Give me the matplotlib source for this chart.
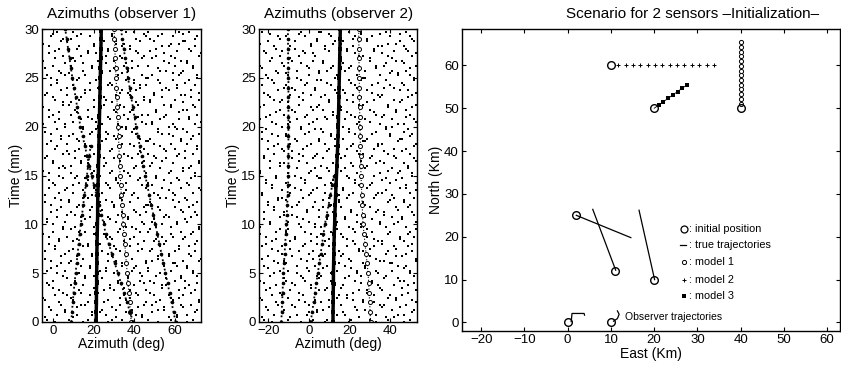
import numpy as np
import matplotlib.pyplot as plt

plt.rcParams['font.family'] = ['Liberation Sans', 'DejaVu Sans']

# ---- azimuth panels: clutter rows (two interleaved sets, half-minute rows) ----
row_t = np.arange(0.25, 30, 0.5)
row_t2 = np.arange(0.0, 30, 0.5)

clutter1 = [
    [-3, 8, 17, 29, 34, 47, 58, 69], [2, 12, 19, 26, 41, 44, 61, 66],
    [-1, 6, 24, 31, 39, 52, 55, 71], [4, 14, 16, 33, 45, 49, 63, 68],
    [-4, 10, 21, 27, 36, 53, 59, 72], [1, 7, 18, 35, 42, 50, 57, 64],
    [3, 13, 25, 30, 38, 46, 62, 70], [-2, 9, 15, 28, 40, 54, 56, 67],
    [0, 11, 22, 32, 43, 48, 60, 65], [5, 16, 20, 37, 44, 51, 63, 71],
    [-3, 6, 23, 26, 39, 47, 58, 69], [2, 14, 18, 34, 41, 55, 61, 66],
    [-1, 9, 27, 31, 46, 49, 64, 72], [4, 12, 19, 29, 36, 52, 57, 68],
    [-4, 8, 24, 33, 42, 48, 60, 70], [1, 15, 17, 30, 38, 53, 62, 67],
    [3, 10, 21, 35, 45, 50, 56, 71], [-2, 7, 26, 28, 40, 54, 59, 65],
    [0, 13, 16, 32, 43, 47, 63, 69], [5, 11, 20, 36, 39, 51, 58, 72],
    [-3, 6, 25, 31, 44, 49, 61, 66], [2, 14, 18, 27, 37, 55, 57, 68],
    [-1, 9, 22, 34, 41, 46, 64, 70], [4, 12, 19, 30, 45, 52, 60, 67],
    [-4, 8, 23, 29, 38, 48, 62, 71], [1, 15, 17, 33, 42, 53, 56, 65],
    [3, 10, 24, 35, 40, 50, 59, 69], [-2, 7, 20, 28, 46, 54, 63, 72],
    [0, 13, 26, 32, 36, 47, 58, 66], [5, 11, 16, 31, 43, 51, 61, 68],
    [-2, 9, 19, 28, 37, 46, 57, 70], [3, 6, 22, 33, 40, 53, 64, 67],
    [0, 14, 17, 26, 44, 49, 59, 72], [-4, 11, 25, 30, 39, 51, 56, 65],
    [5, 8, 20, 35, 42, 47, 62, 69], [1, 13, 23, 29, 45, 55, 60, 71],
    [-3, 7, 16, 34, 38, 50, 58, 66], [4, 12, 26, 31, 43, 48, 63, 68],
    [-1, 10, 18, 27, 41, 54, 57, 72], [2, 15, 21, 36, 40, 52, 61, 64],
    [-5, 6, 24, 32, 46, 49, 59, 70], [3, 14, 19, 28, 37, 53, 62, 67],
    [0, 9, 22, 35, 44, 47, 56, 71], [-2, 11, 17, 30, 39, 51, 64, 66],
    [5, 8, 25, 33, 42, 55, 58, 69], [1, 13, 20, 26, 45, 48, 60, 72],
    [-4, 7, 23, 31, 38, 50, 63, 65], [4, 16, 18, 34, 41, 54, 57, 68],
    [-1, 10, 27, 29, 43, 46, 61, 70], [2, 12, 21, 36, 40, 52, 59, 67],
    [-3, 6, 16, 32, 44, 49, 62, 71], [3, 15, 24, 28, 37, 53, 56, 64],
    [0, 9, 19, 35, 42, 47, 60, 69], [-5, 11, 22, 30, 39, 55, 63, 66],
    [5, 14, 26, 33, 45, 51, 58, 72], [1, 8, 17, 27, 41, 48, 61, 68],
    [-2, 13, 20, 34, 38, 54, 57, 70], [4, 7, 25, 31, 43, 50, 64, 65],
    [-1, 12, 18, 29, 46, 52, 59, 71], [2, 10, 23, 36, 40, 47, 62, 67],
]
clutter1b = [
    [1, 15, 27, 39, 52, 66], [-4, 10, 31, 44, 57, 61], [6, 19, 23, 36, 49, 70],
    [-2, 12, 29, 42, 55, 64], [3, 17, 25, 46, 51, 72], [-5, 9, 33, 38, 58, 62],
    [5, 14, 22, 41, 48, 68], [0, 20, 28, 35, 54, 65], [-3, 11, 32, 45, 50, 71],
    [7, 16, 24, 37, 56, 63], [2, 13, 30, 43, 53, 69], [-1, 18, 26, 40, 47, 66],
    [4, 8, 34, 46, 59, 60], [-4, 15, 21, 39, 52, 73], [6, 19, 27, 36, 57, 67],
    [1, 10, 31, 44, 49, 62], [-2, 17, 23, 42, 55, 70], [3, 12, 29, 38, 51, 64],
    [-5, 20, 25, 35, 58, 68], [5, 9, 33, 41, 48, 72], [0, 14, 22, 45, 54, 61],
    [-3, 16, 28, 37, 50, 65], [7, 11, 32, 43, 56, 71], [2, 18, 24, 40, 53, 63],
    [-1, 13, 30, 46, 47, 69], [4, 8, 26, 34, 59, 66], [-4, 19, 34, 39, 52, 60],
    [6, 15, 21, 36, 57, 73], [1, 10, 27, 44, 49, 67], [-2, 17, 31, 42, 55, 62],
    [3, 12, 23, 38, 51, 70], [-5, 20, 29, 35, 58, 64], [5, 9, 25, 41, 48, 68],
    [0, 14, 33, 45, 54, 72], [-3, 16, 22, 37, 50, 61], [7, 11, 28, 43, 56, 65],
    [2, 18, 32, 40, 53, 71], [-1, 13, 24, 46, 47, 63], [4, 8, 30, 34, 59, 69],
    [-4, 19, 26, 39, 52, 66], [6, 15, 34, 36, 57, 60], [1, 10, 21, 44, 49, 73],
    [-2, 17, 27, 42, 55, 67], [3, 12, 31, 38, 51, 62], [-5, 20, 23, 35, 58, 70],
    [5, 9, 29, 41, 48, 64], [0, 14, 25, 45, 54, 68], [-3, 16, 33, 37, 50, 72],
    [7, 11, 22, 43, 56, 61], [2, 18, 28, 40, 53, 65], [-1, 13, 32, 46, 47, 71],
    [4, 8, 24, 34, 59, 63], [-4, 19, 30, 39, 52, 69], [6, 15, 26, 36, 57, 66],
    [1, 10, 34, 44, 49, 60], [-2, 17, 21, 42, 55, 73], [3, 12, 27, 38, 51, 67],
    [-5, 20, 31, 35, 58, 62], [5, 9, 23, 41, 48, 70], [0, 14, 29, 45, 54, 64],
]

clutter2 = [
    [-22, -10, 2, 9, 21, 30, 39, 50], [-17, -6, -1, 14, 18, 33, 44, 47],
    [-20, -12, 4, 7, 24, 28, 41, 52], [-15, -8, 0, 12, 16, 35, 37, 48],
    [-23, -5, 3, 10, 22, 27, 43, 51], [-18, -13, -3, 15, 19, 32, 40, 46],
    [-21, -9, 5, 8, 25, 29, 36, 53], [-16, -7, 1, 13, 17, 34, 42, 49],
    [-24, -11, -2, 11, 23, 31, 45, 47], [-19, -4, 4, 6, 20, 26, 38, 52],
    [-14, -10, 0, 14, 24, 33, 41, 50], [-22, -6, 3, 9, 18, 28, 44, 48],
    [-17, -12, -1, 12, 21, 35, 37, 53], [-20, -8, 5, 7, 16, 30, 43, 46],
    [-15, -5, 2, 15, 25, 27, 39, 51], [-23, -13, -3, 10, 19, 32, 42, 49],
    [-18, -9, 1, 8, 22, 34, 36, 47], [-21, -7, 4, 13, 17, 29, 45, 52],
    [-16, -11, -2, 11, 23, 31, 40, 50], [-24, -4, 3, 6, 20, 26, 38, 48],
    [-19, -10, 0, 14, 24, 35, 44, 53], [-14, -6, 5, 9, 18, 28, 41, 46],
    [-22, -12, -1, 12, 21, 33, 37, 51], [-17, -8, 2, 7, 16, 30, 43, 49],
    [-20, -5, 3, 15, 25, 27, 39, 47], [-15, -13, -3, 10, 19, 32, 42, 52],
    [-23, -9, 1, 8, 22, 34, 36, 50], [-18, -7, 4, 13, 17, 29, 45, 48],
    [-21, -11, -2, 11, 23, 31, 40, 53], [-16, -4, 5, 6, 20, 26, 38, 46],
    [-24, -10, 0, 14, 24, 35, 44, 51], [-19, -6, 3, 9, 18, 28, 41, 49],
    [-14, -12, -1, 12, 21, 33, 37, 47], [-22, -8, 2, 7, 16, 30, 43, 52],
    [-17, -5, 4, 15, 25, 27, 39, 50], [-20, -13, -3, 10, 19, 32, 42, 48],
    [-15, -9, 1, 8, 22, 34, 36, 53], [-23, -7, 5, 13, 17, 29, 45, 46],
    [-18, -11, -2, 11, 23, 31, 40, 51], [-21, -4, 3, 6, 20, 26, 38, 49],
    [-16, -10, 0, 14, 24, 35, 44, 47], [-24, -6, 4, 9, 18, 28, 41, 52],
    [-19, -12, -1, 12, 21, 33, 37, 50], [-14, -8, 2, 7, 16, 30, 43, 48],
    [-22, -5, 5, 15, 25, 27, 39, 53], [-17, -13, -3, 10, 19, 32, 42, 46],
    [-20, -9, 1, 8, 22, 34, 36, 51], [-15, -7, 3, 13, 17, 29, 45, 49],
    [-23, -11, -2, 11, 23, 31, 40, 47], [-18, -4, 4, 6, 20, 26, 38, 52],
    [-21, -10, 0, 14, 24, 35, 44, 50], [-16, -6, 5, 9, 18, 28, 41, 48],
    [-24, -12, -1, 12, 21, 33, 37, 53], [-19, -8, 2, 7, 16, 30, 43, 46],
    [-14, -5, 3, 15, 25, 27, 39, 51], [-22, -13, -3, 10, 19, 32, 42, 49],
    [-17, -9, 1, 8, 22, 34, 36, 47], [-20, -7, 4, 13, 17, 29, 45, 52],
    [-15, -11, -2, 11, 23, 31, 40, 50], [-23, -4, 5, 6, 20, 26, 38, 48],
]
clutter2b = [
    [-18, -4, 8, 20, 33, 47], [-23, -9, 12, 25, 38, 42], [-13, 0, 4, 17, 30, 51],
    [-21, -7, 10, 23, 36, 45], [-16, -2, 6, 27, 32, 53], [-24, -10, 14, 19, 39, 43],
    [-14, -5, 3, 22, 29, 49], [-19, 1, 9, 16, 35, 46], [-22, -8, 13, 26, 31, 52],
    [-12, -3, 5, 18, 37, 44], [-17, -6, 11, 24, 34, 50], [-20, -1, 7, 21, 28, 47],
    [-15, -11, 15, 27, 40, 41], [-23, -4, 2, 20, 33, 53], [-13, 0, 8, 17, 38, 48],
    [-18, -9, 12, 25, 30, 43], [-21, -2, 4, 23, 36, 51], [-16, -7, 10, 19, 32, 45],
    [-24, 1, 6, 16, 39, 49], [-14, -10, 14, 22, 29, 53], [-19, -5, 3, 26, 35, 42],
    [-22, -3, 9, 18, 31, 46], [-12, -8, 13, 24, 37, 52], [-17, -1, 5, 21, 34, 44],
    [-20, -6, 11, 27, 28, 50], [-15, -11, 7, 15, 40, 47], [-23, 0, 15, 20, 33, 41],
    [-13, -4, 2, 17, 38, 53], [-18, -9, 8, 25, 30, 48], [-21, -2, 12, 23, 36, 43],
    [-16, -7, 4, 19, 32, 51], [-24, 1, 10, 16, 39, 45], [-14, -10, 6, 22, 29, 49],
    [-19, -5, 14, 26, 35, 53], [-22, -3, 3, 18, 31, 42], [-12, -8, 9, 24, 37, 46],
    [-17, -1, 13, 21, 34, 52], [-20, -6, 5, 27, 28, 44], [-15, -11, 11, 15, 40, 50],
    [-23, 0, 7, 20, 33, 47], [-13, -4, 15, 17, 38, 41], [-18, -9, 2, 25, 30, 53],
    [-21, -2, 8, 23, 36, 48], [-16, -7, 12, 19, 32, 43], [-24, 1, 4, 16, 39, 51],
    [-14, -10, 10, 22, 29, 45], [-19, -5, 6, 26, 35, 49], [-22, -3, 14, 18, 31, 53],
    [-12, -8, 3, 24, 37, 42], [-17, -1, 9, 21, 34, 46], [-20, -6, 13, 27, 28, 52],
    [-15, -11, 5, 15, 40, 44], [-23, 0, 11, 20, 33, 50], [-13, -4, 7, 17, 38, 47],
    [-18, -9, 15, 25, 30, 41], [-21, -2, 2, 23, 36, 53], [-16, -7, 8, 19, 32, 48],
    [-24, 1, 12, 16, 39, 43], [-14, -10, 4, 22, 29, 51], [-19, -5, 10, 26, 35, 45],
]

# ---- azimuth tracks, one value per minute ----
t_min = np.arange(31)

sq1 = [21.3, 21.3, 21.4, 21.4, 21.5, 21.5, 21.6, 21.6, 21.7, 21.8, 21.9, 22.0, 22.0, 22.1, 22.2, 22.3,
       22.4, 22.5, 22.6, 22.7, 22.8, 22.9, 23.0, 23.1, 23.2, 23.3, 23.4, 23.5, 23.6, 23.7, 23.8]
circ1 = [38.6, 38.2, 37.8, 37.4, 37.0, 36.6, 36.2, 35.8, 35.4, 35.0, 34.6, 34.3, 34.0, 33.7, 33.4, 33.1,
         32.9, 32.7, 32.5, 32.3, 32.1, 31.9, 31.7, 31.5, 31.3, 31.1, 30.9, 30.7, 30.5, 30.3, 30.1]
diag1 = [39.5, 38.0, 36.5, 35.0, 33.5, 32.0, 30.5, 29.0, 27.5, 26.0, 25.0, 23.8, 22.6, 21.4, 20.2, 19.0,
         17.9, 16.8, 15.7, 14.6, 13.5, 12.7, 11.9, 11.1, 10.3, 9.5, 8.8, 8.1, 7.4, 6.7, 6.0]
left1 = [9.0, 9.3, 9.7, 10.1, 10.6, 11.1, 11.6, 12.1, 12.6, 13.1, 13.7, 14.3, 14.9, 15.5, 16.1, 16.7,
         17.3, 17.9, 18.5]
right1 = [60.5, 59.5, 58.5, 57.5, 56.5, 55.5, 54.5, 53.5, 52.5, 51.5, 50.5, 49.5, 48.5, 47.5, 46.5, 45.5,
          44.6, 43.7, 42.8, 41.9, 41.0, 40.2, 39.4, 38.6, 37.8, 37.0, 36.3, 35.6, 34.9, 34.2, 33.5]

sq2 = [12.0, 12.0, 12.1, 12.1, 12.2, 12.2, 12.3, 12.4, 12.5, 12.6, 12.8, 12.9, 13.1, 13.3, 13.5, 13.7,
       13.9, 14.1, 14.3, 14.5, 14.6, 14.7, 14.8, 14.9, 15.0, 15.1, 15.2, 15.3, 15.4, 15.5, 15.6]
circ2 = [30.5, 30.3, 30.1, 29.8, 29.6, 29.3, 28.8, 28.3, 27.8, 27.3, 26.8, 26.6, 26.4, 26.2, 26.0, 25.8,
         25.7, 25.6, 25.5, 25.4, 25.3, 25.2, 25.1, 25.0, 25.0, 24.9, 24.9, 24.8, 24.8, 24.7, 24.7]
left2 = [-13.5, -13.3, -13.1, -12.9, -12.7, -12.5, -12.2, -11.9, -11.6, -11.3, -11.0, -10.8, -10.6, -10.4,
         -10.2, -10.0, -10.0, -10.0, -10.0, -10.0, -10.0, -10.0, -10.0, -10.0, -10.0, -10.0, -10.1, -10.1,
         -10.2, -10.2, -10.3]
diag2 = [1.0, 1.7, 2.4, 3.1, 3.8, 4.5, 5.2, 5.9, 6.6, 7.3, 8.0, 8.9, 9.8, 10.7, 11.6, 12.5]

# ---- scenario panel ----
init_x = [40, 10, 20, 2, 11, 20, 0, 10]
init_y = [50, 60, 50, 25, 12, 10, 0, 0]
model1_y = [51.1, 52.2, 53.3, 54.4, 55.5, 56.6, 57.7, 58.8, 59.9, 61.0, 62.1, 63.2, 64.3, 65.4]
model2_x = [11.7, 13.4, 15.1, 16.8, 18.5, 20.2, 21.9, 23.6, 25.3, 27.0, 28.7, 30.4, 32.1, 33.8]
model3_x = [21.0, 22.1, 23.2, 24.3, 25.4, 26.5, 27.5]
model3_y = [50.7, 51.5, 52.3, 53.1, 53.9, 54.7, 55.4]
true_tracks = [([2, 14.6], [25, 19.8]), ([11.1, 5.8], [12.2, 26.4]), ([20.1, 16.5], [10, 26.2])]
obs_tracks = [([0.8, 0.9, 1.0, 3.8, 3.9], [0.2, 1.0, 2.1, 2.1, 1.7]),
              ([10.6, 11.5, 11.9, 11.5], [0.3, 0.9, 1.9, 2.7])]


def clutter_xy(times, rows):
    xs, ys = [], []
    for t, row in zip(times, rows):
        xs += row
        ys += [t] * len(row)
    return xs, ys


def style(ax):
    ax.tick_params(direction='in', length=3, top=True, right=True, labelsize=9.5, pad=2)
    for s in ax.spines.values():
        s.set_linewidth(1.0)


fig = plt.figure(figsize=(8.41, 3.68), dpi=100)

panels = [
    ([0.0499, 0.125, 0.189, 0.796], (clutter1, clutter1b), sq1, circ1, [diag1, right1], [left1],
     (-5.5, 73), [0, 20, 40, 60], 'Azimuths (observer 1)'),
    ([0.308, 0.125, 0.188, 0.796], (clutter2, clutter2b), sq2, circ2, [left2], [diag2],
     (-24.5, 53.5), [-20, 0, 20, 40], 'Azimuths (observer 2)'),
]

for rect, (clut_a, clut_b), sq, circ, full_dots, part_dots, xl, xt, title in panels:
    ax = fig.add_axes(rect)
    for times, rows in ((row_t, clut_a), (row_t2, clut_b)):
        cx, cy = clutter_xy(times, rows)
        ax.plot(cx, cy, 's', color='k', ms=2.0, mew=0)
    ax.plot(sq, t_min, 'k-', lw=2.5)
    ax.plot(sq, t_min, 's', color='k', ms=3.0, mew=0)
    ax.plot(circ, t_min, 'k:', lw=0.8)
    ax.plot(circ, t_min, 'o', mfc='white', mec='k', ms=2.9, mew=0.7)
    for tr in full_dots:
        ax.plot(tr, t_min, 'k:', lw=1.3)
        ax.plot(tr, t_min, '.', color='k', ms=3.2)
    for tr in part_dots:
        ax.plot(tr, t_min[:len(tr)], 'k:', lw=1.3)
        ax.plot(tr, t_min[:len(tr)], '.', color='k', ms=3.2)
    ax.set_xlim(*xl)
    ax.set_ylim(0, 30)
    ax.set_xticks(xt)
    ax.set_yticks([0, 5, 10, 15, 20, 25, 30])
    ax.set_xlabel('Azimuth (deg)', fontsize=10, labelpad=0)
    ax.set_ylabel('Time (mn)', fontsize=10, labelpad=1)
    ax.set_title(title, fontsize=11, pad=8)
    style(ax)

ax3 = fig.add_axes([0.549, 0.1005, 0.450, 0.8207])
for xs, ys in true_tracks:
    ax3.plot(xs, ys, 'k-', lw=0.9)
for xs, ys in obs_tracks:
    ax3.plot(xs, ys, 'k-', lw=0.9)
ax3.plot([40] * len(model1_y), model1_y, 'o', mfc='white', mec='k', ms=3, mew=0.7)
ax3.plot(model2_x, [60] * len(model2_x), '+', color='k', ms=3.5, mew=0.7)
ax3.plot([20, 27.5], [50, 55.4], 'k-', lw=0.6)
ax3.plot(model3_x, model3_y, 's', color='k', ms=2.6, mew=0)
ax3.plot(init_x, init_y, 'o', mfc='none', mec='k', ms=5.5, mew=1.0)

# legend written as text in data coordinates
leg_y = [21.9, 18.0, 14.0, 10.0, 6.1]
leg_txt = [': initial position', ': true trajectories', ': model 1', ': model 2', ': model 3']
ax3.plot(27, leg_y[0], 'o', mfc='none', mec='k', ms=5, mew=0.9)
ax3.plot([26.0, 27.4], [leg_y[1], leg_y[1]], 'k-', lw=0.9)
ax3.plot(27, leg_y[2], 'o', mfc='white', mec='k', ms=3, mew=0.7)
ax3.plot(27, leg_y[3], '+', color='k', ms=3.5, mew=0.7)
ax3.plot(27, leg_y[4], 's', color='k', ms=2.6, mew=0)
for y, s in zip(leg_y, leg_txt):
    ax3.text(28.0, y, s, fontsize=7.8, va='center', ha='left')
ax3.text(13.3, 1.2, 'Observer trajectories', fontsize=7.5, va='center', ha='left')

ax3.set_xlim(-24.5, 63)
ax3.set_ylim(-2, 68.5)
ax3.set_xticks(range(-20, 61, 10))
ax3.set_yticks(range(0, 61, 10))
ax3.set_xlabel('East (Km)', fontsize=10, labelpad=1)
ax3.set_ylabel('North (Km)', fontsize=10, labelpad=1)
style(ax3)
fig.text(0.824, 0.962, 'Scenario for 2 sensors \u2013Initialization\u2013', fontsize=11,
         ha='center', va='center')

fig.savefig('out.png', dpi=100)
